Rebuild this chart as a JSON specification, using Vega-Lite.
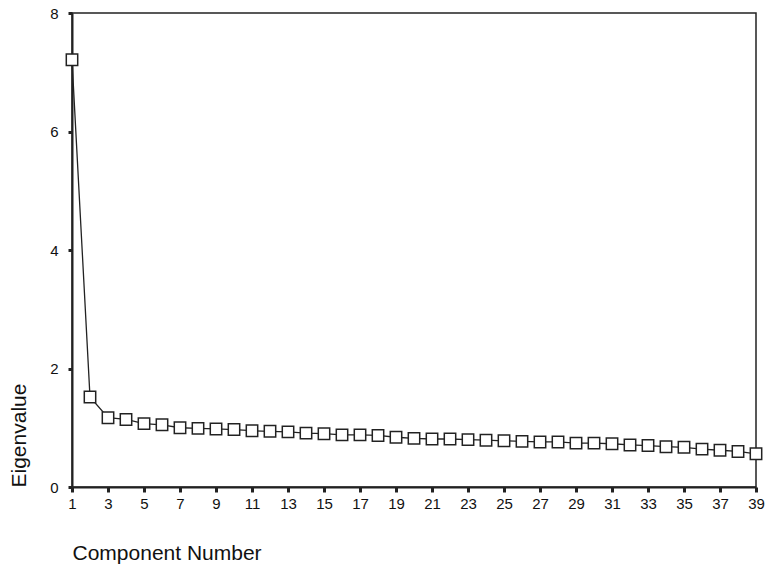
{
  "$schema": "https://vega.github.io/schema/vega-lite/v6.json",
  "width": 684,
  "height": 474,
  "autosize": {"type": "none"},
  "padding": {"left": 72, "top": 13, "right": 11, "bottom": 83},
  "background": "white",
  "config": {
    "view": {"stroke": "#222", "strokeWidth": 1.5},
    "font": "Liberation Sans"
  },
  "data": {
    "values": [
      {"component": 1, "eigenvalue": 7.21},
      {"component": 2, "eigenvalue": 1.52},
      {"component": 3, "eigenvalue": 1.17},
      {"component": 4, "eigenvalue": 1.14},
      {"component": 5, "eigenvalue": 1.07},
      {"component": 6, "eigenvalue": 1.05},
      {"component": 7, "eigenvalue": 1.0},
      {"component": 8, "eigenvalue": 0.99},
      {"component": 9, "eigenvalue": 0.98},
      {"component": 10, "eigenvalue": 0.97},
      {"component": 11, "eigenvalue": 0.95},
      {"component": 12, "eigenvalue": 0.94},
      {"component": 13, "eigenvalue": 0.93},
      {"component": 14, "eigenvalue": 0.91},
      {"component": 15, "eigenvalue": 0.9},
      {"component": 16, "eigenvalue": 0.88},
      {"component": 17, "eigenvalue": 0.88},
      {"component": 18, "eigenvalue": 0.87},
      {"component": 19, "eigenvalue": 0.84},
      {"component": 20, "eigenvalue": 0.82},
      {"component": 21, "eigenvalue": 0.81},
      {"component": 22, "eigenvalue": 0.81},
      {"component": 23, "eigenvalue": 0.8},
      {"component": 24, "eigenvalue": 0.79},
      {"component": 25, "eigenvalue": 0.78},
      {"component": 26, "eigenvalue": 0.77},
      {"component": 27, "eigenvalue": 0.76},
      {"component": 28, "eigenvalue": 0.76},
      {"component": 29, "eigenvalue": 0.74},
      {"component": 30, "eigenvalue": 0.74},
      {"component": 31, "eigenvalue": 0.73},
      {"component": 32, "eigenvalue": 0.71},
      {"component": 33, "eigenvalue": 0.7},
      {"component": 34, "eigenvalue": 0.68},
      {"component": 35, "eigenvalue": 0.67},
      {"component": 36, "eigenvalue": 0.64},
      {"component": 37, "eigenvalue": 0.62},
      {"component": 38, "eigenvalue": 0.6},
      {"component": 39, "eigenvalue": 0.56}
    ]
  },
  "encoding": {
    "x": {
      "field": "component",
      "type": "quantitative",
      "scale": {"domain": [1, 39], "nice": false, "zero": false},
      "axis": {
        "title": "Component Number",
        "values": [1,3,5,7,9,11,13,15,17,19,21,23,25,27,29,31,33,35,37,39],
        "grid": false,
        "domainColor": "#222",
        "domainWidth": 2,
        "tickColor": "#222",
        "tickWidth": 3,
        "tickSize": 5,
        "labelFontSize": 15,
        "labelFontWeight": "normal",
        "labelColor": "#111",
        "labelPadding": 4,
        "labelFlush": false,
        "titleFontSize": 21,
        "titleFontWeight": "normal",
        "titleColor": "#111",
        "titleAnchor": "start",
        "titlePadding": 31
      }
    },
    "y": {
      "field": "eigenvalue",
      "type": "quantitative",
      "scale": {"domain": [0, 8], "nice": false},
      "axis": {
        "title": "Eigenvalue",
        "values": [0, 2, 4, 6, 8],
        "grid": false,
        "domainColor": "#222",
        "domainWidth": 2,
        "tickColor": "#222",
        "tickWidth": 3,
        "tickSize": 4,
        "labelFontSize": 15,
        "labelFontWeight": "normal",
        "labelColor": "#111",
        "labelPadding": 10,
        "labelFlush": false,
        "titleFontSize": 21,
        "titleFontWeight": "normal",
        "titleColor": "#111",
        "titleAnchor": "start",
        "titlePadding": 20
      }
    }
  },
  "layer": [
    {"mark": {"type": "line", "color": "#222", "strokeWidth": 1.3}},
    {"mark": {"type": "point", "shape": "square", "size": 130, "filled": false, "fill": "white", "fillOpacity": 1, "stroke": "#222", "strokeWidth": 1.5, "opacity": 1}}
  ]
}
